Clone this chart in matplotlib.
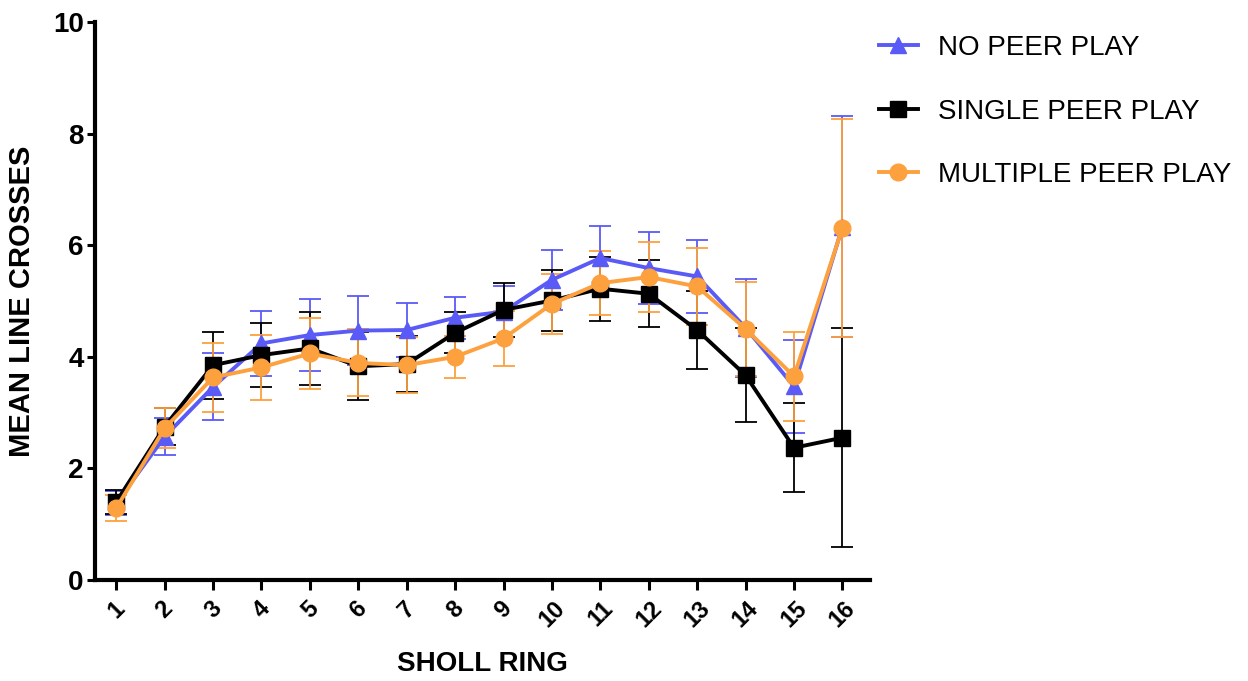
import numpy as np
import matplotlib
matplotlib.use("Agg")
import matplotlib.pyplot as plt
from matplotlib.lines import Line2D

plt.rcParams['font.family'] = ['Liberation Sans', 'DejaVu Sans']

# Sholl rings and mean line crosses (+/- SEM) per play condition
rings = np.arange(1, 17)

no_peer = [1.38, 2.57, 3.46, 4.24, 4.39, 4.47, 4.48, 4.70,
           4.81, 5.38, 5.77, 5.59, 5.44, 4.52, 3.47, 6.33]
no_peer_sem = [0.22, 0.33, 0.60, 0.58, 0.64, 0.62, 0.48, 0.38,
               0.46, 0.54, 0.58, 0.64, 0.66, 0.88, 0.83, 1.98]

single_peer = [1.40, 2.75, 3.85, 4.03, 4.15, 3.83, 3.87, 4.43,
               4.84, 5.01, 5.22, 5.13, 4.48, 3.67, 2.37, 2.55]
single_peer_sem = [0.22, 0.33, 0.60, 0.58, 0.65, 0.61, 0.50, 0.37,
                   0.49, 0.54, 0.57, 0.60, 0.70, 0.84, 0.80, 1.96]

multi_peer = [1.29, 2.72, 3.63, 3.81, 4.06, 3.89, 3.85, 4.00,
              4.33, 4.95, 5.32, 5.43, 5.26, 4.50, 3.65, 6.31]
multi_peer_sem = [0.23, 0.36, 0.62, 0.58, 0.64, 0.60, 0.50, 0.38,
                  0.49, 0.54, 0.57, 0.62, 0.69, 0.84, 0.80, 1.96]

labels = ['NO PEER PLAY', 'SINGLE PEER PLAY', 'MULTIPLE PEER PLAY']
colors = ['#5a5af7', '#000000', '#fda03e']
markers = ['^', 's', 'o']

fig = plt.figure(figsize=(12.48, 6.81), dpi=100)
ax = fig.add_axes([0.0761, 0.1483, 0.6210, 0.8194])

series = [(no_peer, no_peer_sem), (single_peer, single_peer_sem), (multi_peer, multi_peer_sem)]
handles = []
for (mean, sem), lab, col, mk in zip(series, labels, colors, markers):
    ax.errorbar(rings, mean, yerr=sem, color=col, marker=mk, markersize=12,
                linewidth=2.8, elinewidth=1.3, capsize=8, capthick=1.3)
    # legend entry shows line + marker only
    handles.append(Line2D([], [], color=col, marker=mk, markersize=12, linewidth=2.8))

ax.set_xlim(0.56, 16.57)
ax.set_ylim(0, 10)
ax.set_yticks([0, 2, 4, 6, 8, 10])
ax.set_xticks(rings)
ax.set_xticklabels([str(r) for r in rings], rotation=45, ha='center',
                   fontsize=17, fontweight='bold')
ax.tick_params(axis='y', labelsize=20, width=2.2, length=6, pad=2)
ax.tick_params(axis='x', width=2.2, length=7, pad=5)
for t in ax.get_yticklabels():
    t.set_fontweight('bold')

for side in ['top', 'right']:
    ax.spines[side].set_visible(False)
for side in ['left', 'bottom']:
    ax.spines[side].set_linewidth(3)

ax.set_xlabel('SHOLL RING', fontsize=20, fontweight='bold', labelpad=14)
ax.set_ylabel('MEAN LINE CROSSES', fontsize=21, fontweight='bold', labelpad=12)

fig.legend(handles=handles, labels=labels, loc='upper left',
           bbox_to_anchor=(0.684, 0.985), frameon=False, fontsize=20,
           handlelength=1.4, handletextpad=0.75, labelspacing=1.35)

fig.savefig('out.png', dpi=100)
